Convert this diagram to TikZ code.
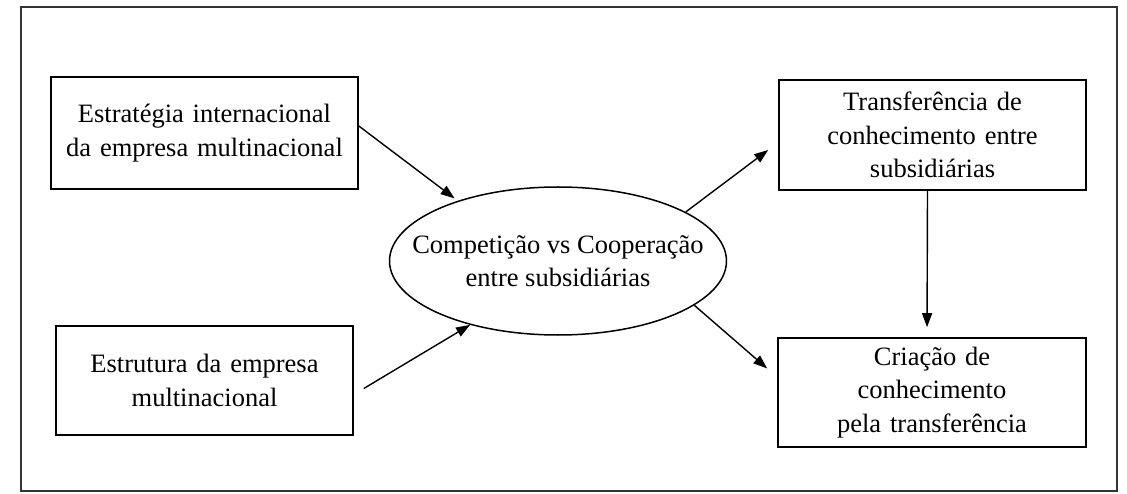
\documentclass[tikz,border=0pt]{standalone}
\usepackage{fontspec}
\setmainfont{Liberation Serif}
\usetikzlibrary{calc,arrows.meta,shapes.geometric}
\begin{document}
\begin{tikzpicture}[x=1pt,y=-1pt,
  every node/.style={font=\fontsize{26.5}{33.5}\selectfont, align=center, inner sep=0pt},
  boxnode/.style={draw=black, line width=1.6pt, minimum width=#1, text width=300pt},
  ellnode/.style={draw=black, ellipse, line width=1.5pt, inner xsep=-29pt, minimum width=337pt, minimum height=148pt},
  conn/.style={line width=1.4pt, -{Triangle[length=14pt,width=10pt]}}
]
\useasboundingbox (0,0) rectangle (1127,494);
\draw[line width=1.5pt, draw=black!80] (21,7) rectangle (1117,491);
\node[boxnode=307pt, minimum height=112pt] (b1) at (204.5,133) {Estratégia internacional\\da empresa multinacional};
\node[boxnode=297pt, minimum height=109pt, text width=290pt] (b2) at (204.5,380.5) {Estrutura da empresa\\multinacional};
\node[ellnode] (e) at (558,261) {Competição vs Cooperação\\entre subsidiárias};
\node[boxnode=307pt, minimum height=110pt] (b3) at (932.5,135) {Transferência de\\conhecimento entre\\subsidiárias};
\node[boxnode=308pt, minimum height=109pt] (b4) at (932,392.5) {Criação de\\conhecimento\\pela transferência};
\draw[conn, shorten >=4pt] ($(b1.east)+(0,-7)$) -- (e.149);
\draw[conn] ($(b2.east)+(10,8)$) -- (e.216);
\draw[conn] (e.21) -- ($(b3.west)+(-10,15)$);
\draw[conn] (e.-18) -- ($(b4.west)+(-10,-24)$);
\draw[conn, shorten >=10pt] ($(b3.south)+(-5,0)$) -- ($(b4.north)+(-5,0)$);
\end{tikzpicture}
\end{document}
